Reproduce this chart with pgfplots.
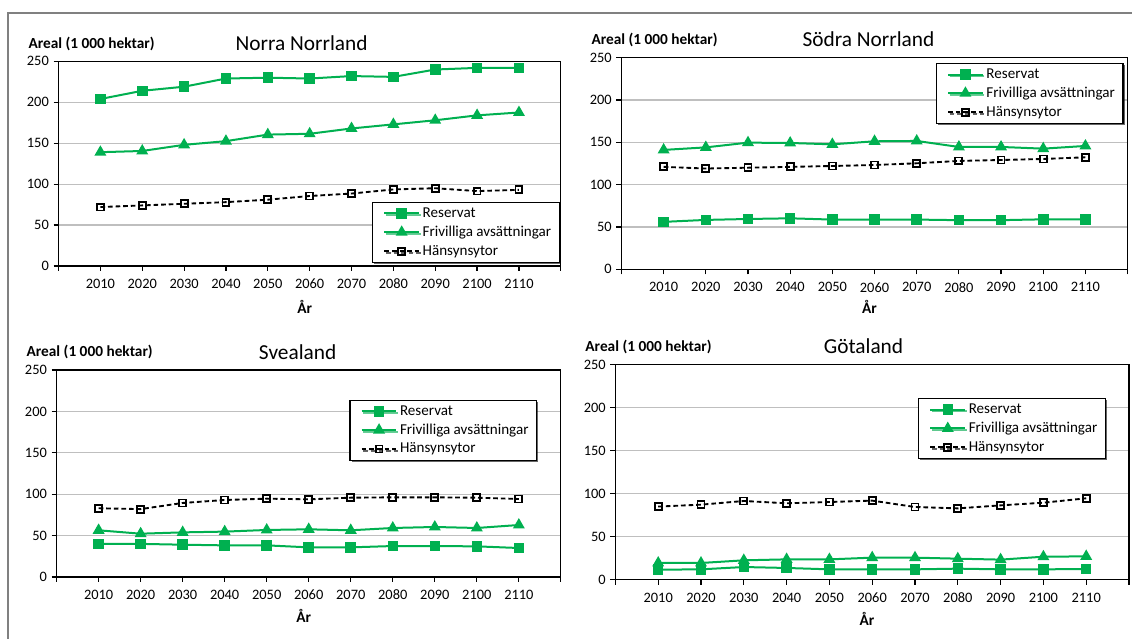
\documentclass[border=0pt]{standalone}
\usepackage{fontspec}
\setmainfont{Carlito}
\usepackage{pgfplots}
\pgfplotsset{compat=1.18}
\usepackage{pgfplotstable}
\usetikzlibrary{shadows}

\definecolor{xlgreen}{RGB}{0,176,80}
\definecolor{gridgray}{RGB}{191,191,191}
\definecolor{framegray}{RGB}{128,128,128}

% Areal (1 000 hektar) per landsdel; x = 0..10 stands for 2010..2110
\pgfplotstableread{
x R F H
0 204 139 72
1 214 140.5 74
2 219 148 76
3 229 152.5 78
4 230 160.5 81
5 229 161.5 85.5
6 232 168 88.5
7 231 173 93.5
8 240 178 95
9 242 184 91.5
10 242 187.5 93
}\norranorrland

\pgfplotstableread{
x R F H
0 56 141 121
1 58.3 144 119
2 59.4 149.6 120
3 60.2 149.2 121
4 58.7 147.6 122
5 58.7 151.2 123.2
6 58.7 151.6 125.2
7 58 144.5 128
8 58 144.5 129.1
9 59 142.5 130.3
10 59 145.7 132.3
}\sodranorrland

\pgfplotstableread{
x R F H
0 40 56.4 83
1 40 52.3 82
2 39 53.9 89.4
3 38.2 54.8 93
4 38.2 56.8 94.6
5 35.8 57.6 93.8
6 35.8 56.4 95.8
7 37.4 59.2 96.2
8 37.4 60.4 96.2
9 37 59.2 95.8
10 35 62.8 94.2
}\svealand

\pgfplotstableread{
x R F H
0 11.6 19.4 85
1 12 19.4 87.2
2 14.7 22.5 91.5
3 13.6 23.6 88.8
4 12 23.6 90.3
5 12 25.6 91.9
6 12 25.6 84.5
7 12.8 24.4 82.9
8 12 23.3 86.4
9 12 26.7 89.5
10 12.4 27.1 94.6
}\gotaland

\pgfplotsset{
  panel/.style={
    scale only axis, clip=false, anchor=south west,
    xmin=-1, xmax=11, ymin=0, ymax=250,
    xtick={-1,0,...,11},
    xticklabels={{},2010,2020,2030,2040,2050,2060,2070,2080,2090,2100,2110,{}},
    ytick={0,50,...,250},
    tick align=outside, major tick length=3.75pt,
    xtick pos=bottom, ytick pos=left,
    ymajorgrids, grid style={gridgray, line width=0.9pt},
    axis line style={black, line width=0.9pt},
    every tick/.style={black, line width=0.9pt},
    tick label style={font=\fontsize{10.8}{12}\selectfont},
    xticklabel style={yshift=-2.5pt},
    /pgf/number format/assume math mode=true,
    legend cell align=left,
    legend image code/.code={%
      \path (-4pt,0pt);
      \draw[mark repeat=2, mark phase=2] plot coordinates {(0pt,0pt) (13pt,0pt) (26pt,0pt)};},
    legend style={draw=black, line width=0.9pt, fill=white,
      font=\fontsize{11.3}{13.5}\selectfont, row sep=1pt,
      inner xsep=4pt, inner ysep=2pt,
      drop shadow={shadow xshift=1.2pt, shadow yshift=-1.2pt, fill=black, opacity=0.6}},
  },
  reservat/.style={xlgreen, line width=1.5pt, mark=square*, mark size=3.2pt,
    mark options={solid, fill=xlgreen}},
  frivilliga/.style={xlgreen, line width=1.5pt, mark=triangle*, mark size=3.7pt,
    mark options={solid, fill=xlgreen}},
  hansyn/.style={black, line width=1.4pt, dash pattern=on 3.5pt off 2.2pt,
    mark=square, mark size=2.6pt, mark options={solid, fill=white, line width=1.4pt}},
}

\newcommand{\panellabels}[3]{%
  \node[font=\fontsize{16}{19}\selectfont] at (rel axis cs:#1,1) [yshift=13.5pt] {#2};
  \node[font=\bfseries\fontsize{11.5}{13}\selectfont, anchor=west, xshift=-26pt, yshift=13.2pt]
    at (rel axis cs:0,1) {Areal (1 000 hektar)};
  \node[font=\bfseries\fontsize{11.5}{13}\selectfont, yshift=-#3] at (rel axis cs:0.49,0) {År};
}

\begin{document}
\begin{tikzpicture}
% outer frame
\draw[framegray, line width=1.5pt] (6pt,0pt) -- (6pt,469.5pt) -- (849pt,469.5pt);

% Norra Norrland
\begin{axis}[panel, at={(43.9pt,279.75pt)}, width=376.7pt, height=153.5pt,
  legend style={at={(0.998,0.314)}, anchor=north east}]
\addplot[reservat] table[x=x, y=R] {\norranorrland};
\addlegendentry{Reservat}
\addplot[frivilliga] table[x=x, y=F] {\norranorrland};
\addlegendentry{Frivilliga avsättningar}
\addplot[hansyn] table[x=x, y=H] {\norranorrland};
\addlegendentry{Hänsynsytor}
\panellabels{0.484}{Norra Norrland}{30.5pt}
\end{axis}

% Södra Norrland
\begin{axis}[panel, at={(466.1pt,277.3pt)}, width=379.6pt, height=158.7pt,
  legend style={at={(0.992,0.976)}, anchor=north east}]
\addplot[reservat] table[x=x, y=R] {\sodranorrland};
\addlegendentry{Reservat}
\addplot[frivilliga] table[x=x, y=F] {\sodranorrland};
\addlegendentry{Frivilliga avsättningar}
\addplot[hansyn] table[x=x, y=H] {\sodranorrland};
\addlegendentry{Hänsynsytor}
\panellabels{0.488}{Södra Norrland}{28.5pt}
\end{axis}

% Svealand
\begin{axis}[panel, at={(42.45pt,46.5pt)}, width=378.2pt, height=155.25pt,
  legend style={at={(0.953,0.857)}, anchor=north east}]
\addplot[reservat] table[x=x, y=R] {\svealand};
\addlegendentry{Reservat}
\addplot[frivilliga] table[x=x, y=F] {\svealand};
\addlegendentry{Frivilliga avsättningar}
\addplot[hansyn] table[x=x, y=H] {\svealand};
\addlegendentry{Hänsynsytor}
\panellabels{0.478}{Svealand}{29pt}
\end{axis}

% Götaland
\begin{axis}[panel, at={(461.55pt,44.5pt)}, width=385.2pt, height=161.25pt,
  legend style={at={(0.955,0.845)}, anchor=north east}]
\addplot[reservat] table[x=x, y=R] {\gotaland};
\addlegendentry{Reservat}
\addplot[frivilliga] table[x=x, y=F] {\gotaland};
\addlegendentry{Frivilliga avsättningar}
\addplot[hansyn] table[x=x, y=H] {\gotaland};
\addlegendentry{Hänsynsytor}
\panellabels{0.483}{Götaland}{29.7pt}
\end{axis}

\pgfresetboundingbox
\useasboundingbox (0pt,0pt) rectangle (849pt,479.25pt);
\end{tikzpicture}
\end{document}
